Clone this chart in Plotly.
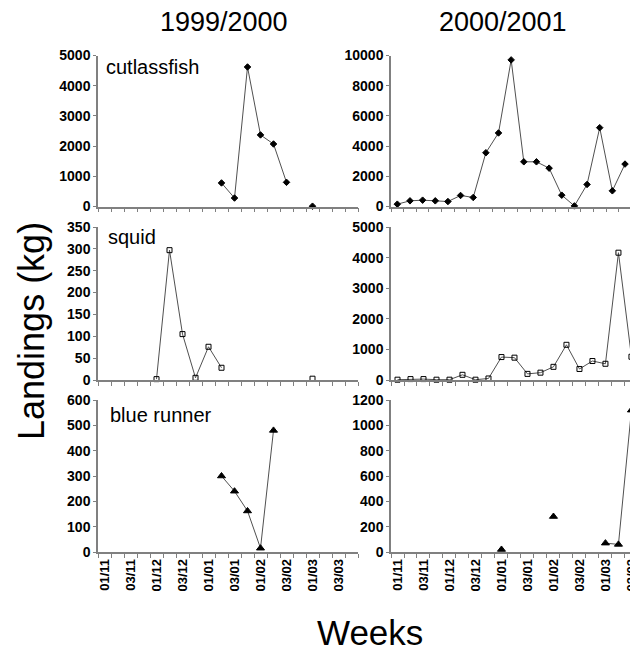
import plotly.graph_objects as go

# ---- data ----
weeks = ["01/11", "02/11", "03/11", "04/11",
         "01/12", "02/12", "03/12", "04/12",
         "01/01", "02/01", "03/01", "04/01",
         "01/02", "02/02", "03/02", "04/02",
         "01/03", "02/03", "03/03", "04/03"]
tick_labels = ["01/11", "", "03/11", "", "01/12", "", "03/12", "",
               "01/01", "", "03/01", "", "01/02", "", "03/02", "",
               "01/03", "", "03/03", ""]

cutlass_9900 = [None, None, None, None, None, None, None, None, None,
                780, 280, 4620, 2370, 2070, 800, None, 10, None, None, None]
cutlass_0001 = [155, 375, 420, 375, 330, 730, 600, 3560, 4870, 9710,
                2960, 2960, 2540, 750, 40, 1460, 5220, 1040, 2810, None]
squid_9900 = [None, None, None, None, 2, 297, 105, 5, 76, 28,
              None, None, None, None, None, None, 3, None, None, None]
squid_0001 = [10, 30, 30, 10, 10, 170, 10, 50, 750, 730,
              200, 240, 430, 1150, 360, 620, 530, 4160, 760, None]
blue_9900 = [None, None, None, None, None, None, None, None, None,
             300, 240, 162, 15, 480, None, None, None, None, None, None]
blue_0001 = [None, None, None, None, None, None, None, None, 20, None,
             None, None, 280, None, None, None, 70, 60, 1120, None]

seasons = ["1999/2000", "2000/2001"]
species = ["cutlassfish", "squid", "blue runner"]

W, H = 638, 658
OFF = 8  # page body margin: figure drawn 8px right/down of window origin
FONT = "Liberation Sans, Arial, sans-serif"


def fx(px):  # image x pixel -> paper fraction
    return (px - OFF) / W


def fy(py):  # image y pixel -> paper fraction
    return 1 - (py - OFF) / H


fig = go.Figure()

panels = [
    # (series, axis idx, symbol, y max, dtick)
    (cutlass_9900, 1, "diamond", 5000, 1000),
    (cutlass_0001, 2, "diamond", 10000, 2000),
    (squid_9900, 3, "square-open", 350, 50),
    (squid_0001, 4, "square-open", 5000, 1000),
    (blue_9900, 5, "triangle-up", 600, 100),
    (blue_0001, 6, "triangle-up", 1200, 200),
]

xdom_left = [fx(98), fx(358)]
xdom_right = [fx(391), 1.0]  # runs past the window edge, so it is cut off
ydoms = [
    [fy(206.5), fy(55.5)],
    [fy(380), fy(227)],
    [fy(552), fy(400)],
]

for series, idx, sym, ymax, dt in panels:
    sfx = "" if idx == 1 else str(idx)
    msize = 7 if sym == "triangle-up" else 5
    fig.add_trace(go.Scatter(
        x=weeks, y=series, mode="lines+markers",
        line=dict(color="#505050", width=1),
        marker=dict(symbol=sym, size=msize, color="black",
                    line=dict(color="black", width=1)),
        connectgaps=False, cliponaxis=False, showlegend=False,
        xaxis="x" + sfx, yaxis="y" + sfx,
    ))
    row = (idx - 1) // 2
    col = (idx - 1) % 2
    bottom = row == 2
    if col == 0:
        xr = [-0.5, 19.5]
    else:
        xr = [-0.5, 19.66] if row == 0 else [-0.5, 19.12]
    fig.update_layout(**{
        "xaxis" + sfx: dict(
            domain=xdom_left if col == 0 else xdom_right,
            anchor="y" + sfx, type="category",
            categoryorder="array", categoryarray=weeks,
            range=xr, tickmode="array", tickvals=weeks,
            ticktext=tick_labels, tickson="boundaries",
            showticklabels=bottom, tickangle=-90,
            tickfont=dict(family=FONT, size=13, color="black", weight="bold"),
            showline=True, linecolor="#808080", linewidth=1.5,
            ticks="outside", ticklen=4, tickcolor="#808080", tickwidth=1,
            showgrid=False, zeroline=False, fixedrange=True, automargin=False,
        ),
        "yaxis" + sfx: dict(
            domain=ydoms[row], anchor="x" + sfx,
            range=[0, ymax], dtick=dt, tick0=0, tickformat="d",
            tickfont=dict(family=FONT, size=14, color="black", weight="bold"),
            showline=True, linecolor="#808080", linewidth=1.5,
            ticks="outside", ticklen=3, tickcolor="#808080",
            showgrid=False, zeroline=False, fixedrange=True, automargin=False,
        ),
    })


def note(text, x, y, size, angle=0, xanchor="center"):
    return dict(text=text, x=fx(x), y=fy(y), xref="paper", yref="paper",
                xanchor=xanchor, yanchor="middle", textangle=angle,
                showarrow=False, font=dict(family=FONT, size=size, color="black"))


annotations = [
    note(seasons[0], 224, 22, 27),
    note(seasons[1], 503, 22, 27),
    note("Landings (kg)", 31, 331, 36, angle=-90),
    note("Weeks", 370, 632, 35),
]
label_pos = [(104, 67), (106, 237), (108, 415)]
for name, (lx, ly) in zip(species, label_pos):
    annotations.append(note(name, lx, ly, 20, xanchor="left"))

fig.update_layout(
    template="none",
    width=W, height=H,
    margin=dict(l=0, r=0, t=0, b=0, autoexpand=False),
    paper_bgcolor="white", plot_bgcolor="white",
    annotations=annotations,
)

fig.write_html("out.html")
